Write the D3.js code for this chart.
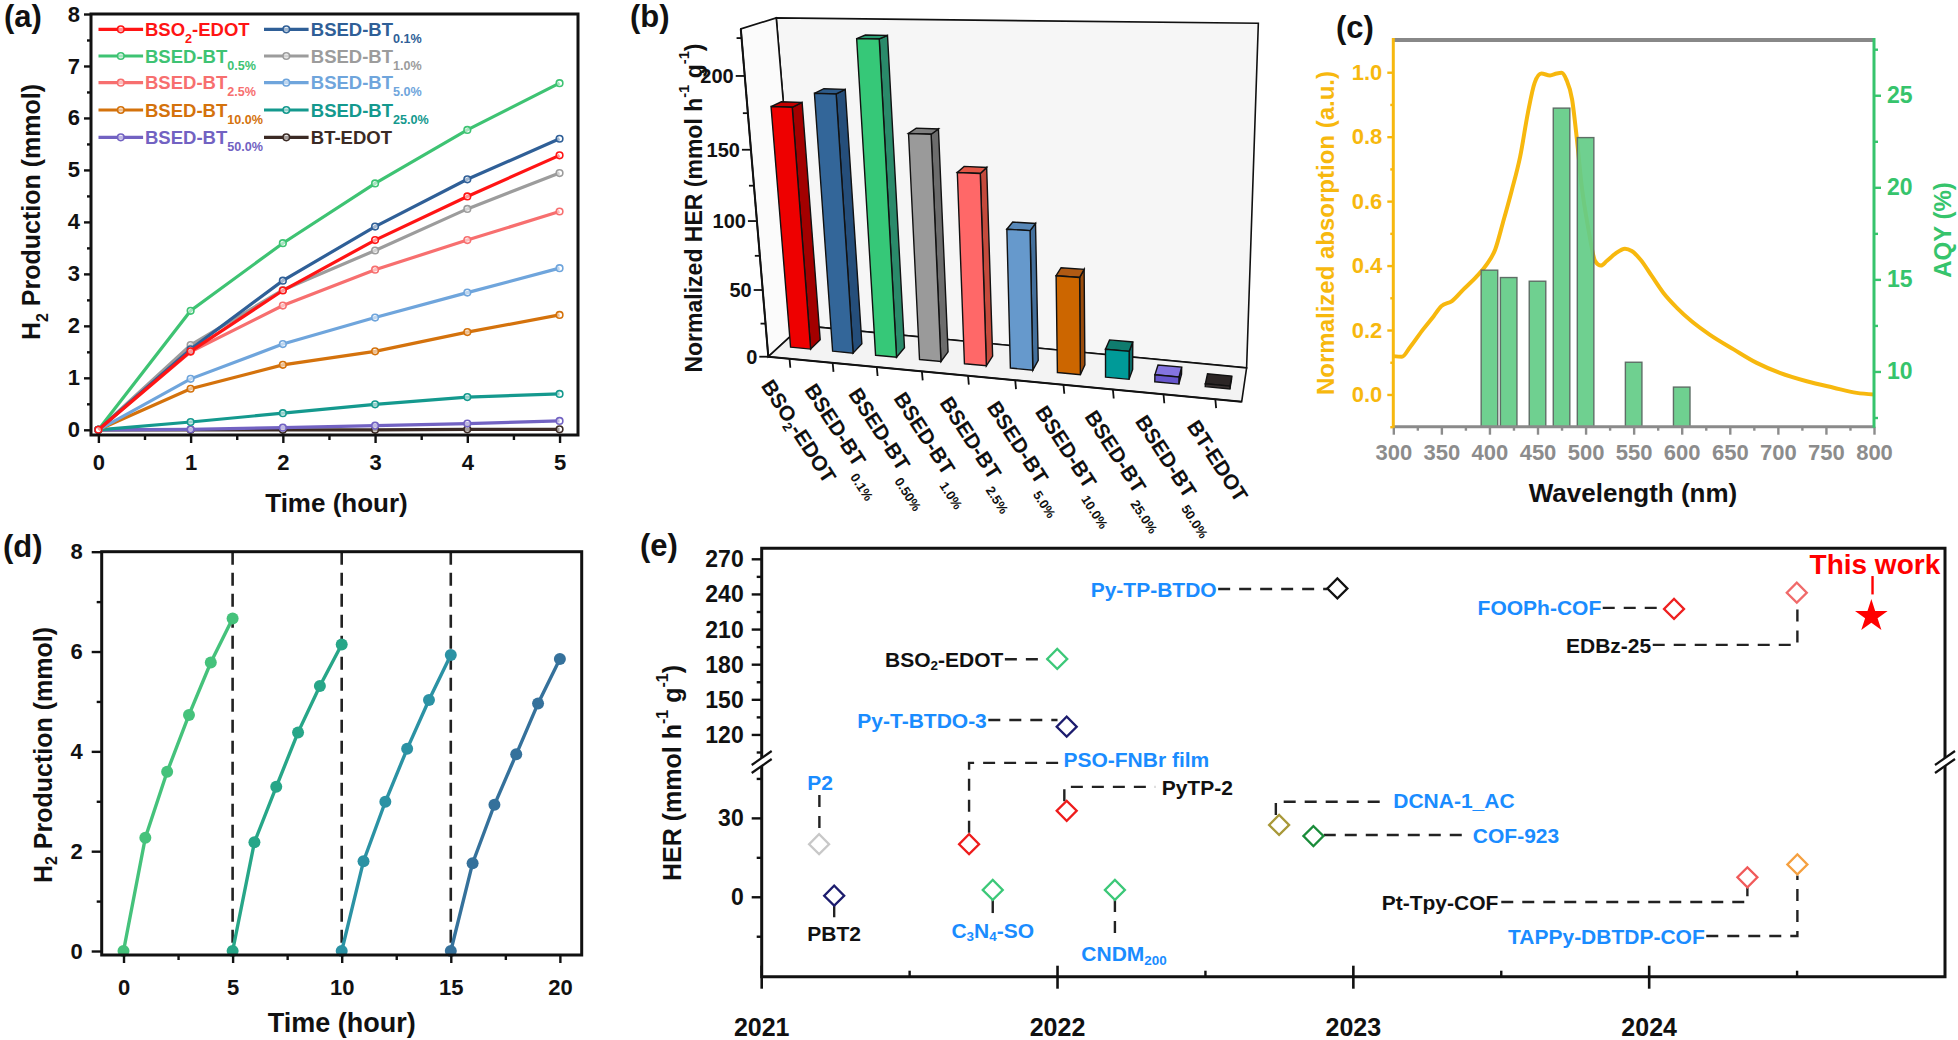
<!DOCTYPE html>
<html><head><meta charset="utf-8">
<script src="https://cdn.jsdelivr.net/npm/d3@7/dist/d3.min.js"></script>
<style>
html,body{margin:0;padding:0;background:#fff;}
svg text{font-family:'Liberation Sans',Arial,Helvetica,sans-serif;font-weight:bold;}
</style></head><body>
<svg id="chart" width="1958" height="1040"></svg>
<script>
// ================= DATA =================
// (a) H2 production vs time
const timeHours=[0,1,2,3,4,5];
const seriesLabelsA=["BSO_{2}-EDOT","BSED-BT_{0.1%}","BSED-BT_{0.5%}","BSED-BT_{1.0%}","BSED-BT_{2.5%}","BSED-BT_{5.0%}","BSED-BT_{10.0%}","BSED-BT_{25.0%}","BSED-BT_{50.0%}","BT-EDOT"];
const h2_BSO2_EDOT=[0,1.51,2.68,3.65,4.49,5.28];
const h2_BT0_1=[0,1.55,2.87,3.91,4.82,5.60];
const h2_BT0_5=[0,2.29,3.59,4.74,5.77,6.67];
const h2_BT1_0=[0,1.63,2.69,3.45,4.25,4.94];
const h2_BT2_5=[0,1.50,2.39,3.08,3.65,4.20];
const h2_BT5_0=[0,0.98,1.65,2.16,2.64,3.11];
const h2_BT10_0=[0,0.79,1.25,1.51,1.88,2.21];
const h2_BT25_0=[0,0.15,0.32,0.49,0.63,0.69];
const h2_BT50_0=[0,0.01,0.04,0.08,0.12,0.17];
const h2_BT_EDOT=[0,0,0,0,0.01,0.01];
const ticksA_x=[0,1,2,3,4,5];
const ticksA_y=[0,1,2,3,4,5,6,7,8];

// (b) normalized HER
const herCategories=["BSO_{2}-EDOT","BSED-BT_{0.1%}","BSED-BT_{0.50%}","BSED-BT_{1.0%}","BSED-BT_{2.5%}","BSED-BT_{5.0%}","BSED-BT_{10.0%}","BSED-BT_{25.0%}","BSED-BT_{50.0%}","BT-EDOT"];
const herNormalized=[176,186,223,161,136,99,69,20,5,2];
const ticksB_y=[0,50,100,150,200];

// (c) absorption + AQY
const absWavelength=[300,309,317,331,342,350,361,373,387,397,406,414,423,432,440,447,454,463,470,475,480,486,491,496,503,510,516,522,531,541,548,557,569,581,595,610,629,654,678,702,730,758,782,800];
const absNormalized=[0.119,0.117,0.145,0.202,0.243,0.274,0.29,0.326,0.367,0.403,0.45,0.533,0.631,0.739,0.874,0.967,0.996,0.99,0.996,0.998,0.977,0.915,0.791,0.646,0.512,0.414,0.40,0.414,0.437,0.452,0.445,0.419,0.367,0.315,0.269,0.228,0.186,0.14,0.098,0.067,0.041,0.021,0.005,0.0];
const aqyWavelength=[400,420,450,475,500,550,600];
const aqyPercent=[15.5,15.1,14.9,24.3,22.7,10.5,9.15];
const ticksC_x=[300,350,400,450,500,550,600,650,700,750,800];
const ticksC_left=[0,0.2,0.4,0.6,0.8,1.0];
const ticksC_right=[10,15,20,25];

// (d) cycling
const cycleTime1=[0,1,2,3,4,5];
const cycleTime2=[5,6,7,8,9,10];
const cycleTime3=[10,11,12,13,14,15];
const cycleTime4=[15,16,17,18,19,20];
const cycleH2_1=[0,2.27,3.59,4.73,5.78,6.66];
const cycleH2_2=[0,2.18,3.29,4.38,5.31,6.14];
const cycleH2_3=[0,1.80,2.99,4.05,5.03,5.93];
const cycleH2_4=[0,1.76,2.93,3.94,4.96,5.85];
const cycleBreaks=[5,10,15];
const ticksD_x=[0,5,10,15,20];
const ticksD_y=[0,2,4,6,8];

// (e) literature comparison
const refNames=["P2","PBT2","PSO-FNBr film","C_{3}N_{4}-SO","BSO_{2}-EDOT","Py-T-BTDO-3","PyTP-2","CNDM_{200}","Py-TP-BTDO","DCNA-1_AC","COF-923","Pt-Tpy-COF","TAPPy-DBTDP-COF","FOOPh-COF","EDBz-25","This work"];
const refYear=[2021.194,2021.245,2021.701,2021.781,2021.999,2022.031,2022.031,2022.194,2022.946,2022.749,2022.865,2024.332,2024.501,2024.084,2024.499,2024.751];
const refHER=[20.2,0.6,20.2,2.8,184.9,127.1,32.9,2.8,245.1,27.5,23.3,7.6,12.5,227.6,241.5,221.4];
const ticksE_upper=[120,150,180,210,240,270];
const ticksE_lower=[0,30];
const ticksE_years=[2021,2022,2023,2024];

// ================= HELPERS =================
const svg=d3.select('#chart');
function rich(sel,str,size,o={}){
  const subScale=o.subScale||0.64, subShift=o.subShift||0.32, subDx=o.subDx||0;
  const shortShift=o.shortShift||subShift;
  const parts=str.split(/(_\{[^}]*\}|\^\{[^}]*\})/).filter(s=>s.length);
  let shift=0;
  parts.forEach(p=>{
    let t=p,kind=0;
    if(p.startsWith('_{')){t=p.slice(2,-1);kind=1;}
    else if(p.startsWith('^{')){t=p.slice(2,-1);kind=-1;}
    const sShift=t.length>1?subShift:shortShift;
    const target=kind===1?size*sShift:(kind===-1?-size*0.42:0);
    const ts=sel.append('tspan').text(t).attr('font-size',kind?size*subScale:size);
    if(target-shift!==0) ts.attr('dy',target-shift);
    if(kind===1&&subDx&&t.length>1) ts.attr('dx',subDx);
    shift=target;
  });
  return sel;
}
function label(x,y,t,size,o={}){
  const s=svg.append('text').attr('x',x).attr('y',y).attr('font-size',size)
    .attr('text-anchor',o.anchor||'start').attr('fill',o.color||'#111');
  if(o.central) s.attr('dominant-baseline','central');
  if(o.rotate!==undefined) s.attr('transform',`rotate(${o.rotate},${x},${y})`);
  rich(s,t,size,o);
  return s;
}
function styleAxis(g,size,color,sw){
  g.attr('font-size',size).attr('font-family',null);
  g.select('.domain').remove();
  g.selectAll('.tick line').attr('stroke',color||'#111').attr('stroke-width',sw||2.4);
  g.selectAll('.tick text').attr('fill',color||'#111');
}
function minor(g){g.selectAll('.tick text').remove();}

// panel letters
label(4,27,'(a)',31);
label(630,27,'(b)',31);
label(1336,38,'(c)',31);
label(3,557,'(d)',31);
label(640,556,'(e)',31);

// ================= PANEL A =================
(function(){
  const g=svg.append('g');
  const x=d3.scaleLinear().domain([-0.08,5.2]).range([91,578]);
  const y=d3.scaleLinear().domain([-0.1,8]).range([435,14]);
  const colors=['#ff1414','#2f5f97','#3ec373','#9c9c9c','#f76f6f','#6fa5dc','#d4720c','#14998e','#7262c2','#3b2a24'];
  const vals=[h2_BSO2_EDOT,h2_BT0_1,h2_BT0_5,h2_BT1_0,h2_BT2_5,h2_BT5_0,h2_BT10_0,h2_BT25_0,h2_BT50_0,h2_BT_EDOT];
  const line=d3.line().x((d,i)=>x(timeHours[i])).y(d=>y(d));
  for(let k=vals.length-1;k>=0;k--){
    g.append('path').attr('d',line(vals[k])).attr('fill','none').attr('stroke',colors[k]).attr('stroke-width',3.2);
    g.selectAll(null).data(vals[k]).join('circle').attr('cx',(d,i)=>x(timeHours[i])).attr('cy',d=>y(d))
      .attr('r',3.3).attr('fill','#fff').attr('fill-opacity',0.55).attr('stroke',colors[k]).attr('stroke-width',1.6);
  }
  styleAxis(g.append('g').attr('transform','translate(0,435)').call(d3.axisBottom(x).tickValues(ticksA_x).tickSize(8).tickPadding(11).tickFormat(d3.format('d'))),22);
  minor(g.append('g').attr('transform','translate(0,435)').call(d3.axisBottom(x).tickValues([0.5,1.5,2.5,3.5,4.5]).tickSize(5)).call(s=>styleAxis(s,22)));
  styleAxis(g.append('g').attr('transform','translate(91,0)').call(d3.axisLeft(y).tickValues(ticksA_y).tickSize(7).tickPadding(4).tickFormat(d3.format('d'))),22);
  minor(g.append('g').attr('transform','translate(91,0)').call(d3.axisLeft(y).tickValues([0.5,1.5,2.5,3.5,4.5,5.5,6.5,7.5]).tickSize(4)).call(s=>styleAxis(s,22)));
  g.append('rect').attr('x',91).attr('y',14).attr('width',487).attr('height',421).attr('fill','none').attr('stroke','#111').attr('stroke-width',3);
  // legend
  const rowsY=[29.3,56,82.7,110,137.3];
  const cols=[{l0:98.5,l1:143.1,tx:145},{l0:264,l1:308.6,tx:310.8}];
  seriesLabelsA.forEach((lab,k)=>{
    const r=Math.floor(k/2),c=cols[k%2],yy=rowsY[r];
    g.append('line').attr('x1',c.l0).attr('x2',c.l1).attr('y1',yy).attr('y2',yy).attr('stroke',colors[k]).attr('stroke-width',3.2);
    g.append('circle').attr('cx',(c.l0+c.l1)/2).attr('cy',yy).attr('r',3.3).attr('fill','#fff').attr('fill-opacity',0.55).attr('stroke',colors[k]).attr('stroke-width',1.6);
    label(c.tx,yy+6.5,lab,18.5,{color:colors[k],subScale:0.68,subShift:0.38});
  });
  label(336.5,512,'Time (hour)',26,{anchor:'middle'});
  label(40,212,'H_{2} Production (mmol)',25,{anchor:'middle',rotate:-90});
})();

// ================= PANEL B =================
(function(){
  const g=svg.append('g');
  const BL=[768.3,356.7],BR=[1241.7,401.7],TR=[1254.2,34.7],TL=[740.8,28.9];
  const VP=[1322,-152],K=0.061,vTop=231;
  const [x0,y0]=BL,[x1,y1]=BR,[x2,y2]=TR,[x3,y3]=TL;
  const dx1=x1-x2,dy1=y1-y2,dx2=x3-x2,dy2=y3-y2,dx3=x0-x1+x2-x3,dy3=y0-y1+y2-y3;
  const den=dx1*dy2-dx2*dy1;
  const hg=(dx3*dy2-dx2*dy3)/den,hh=(dx1*dy3-dx3*dy1)/den;
  const ha=x1-x0+hg*x1,hb=x3-x0+hh*x3,hc=x0,hd=y1-y0+hg*y1,he=y3-y0+hh*y3,hf=y0;
  const sU=d3.scaleLinear().domain([0,10]).range([0,1]);
  const sV=d3.scaleLinear().domain([0,vTop]).range([0,1]);
  function P(u,v,z){const s=sU(u),t=sV(v);const w=hg*s+hh*t+1;const fx=(ha*s+hb*t+hc)/w,fy=(hd*s+he*t+hf)/w;
    return [fx+z*K*(VP[0]-fx),fy+z*K*(VP[1]-fy)];}
  const poly=pts=>'M'+pts.map(p=>p[0].toFixed(2)+','+p[1].toFixed(2)).join('L')+'Z';
  const band=d3.scaleBand().domain(d3.range(herCategories.length)).range([0,10]).paddingInner(0.52).paddingOuter(0.26);
  const bw=band.bandwidth();
  // walls
  g.append('path').attr('d',poly([P(0,0,1),P(10,0,1),P(10,vTop,1),P(0,vTop,1)])).attr('fill','#f6f6f6').attr('stroke','#111').attr('stroke-width',1.6);
  g.append('path').attr('d',poly([P(0,0,0),P(0,0,1),P(0,vTop,1),P(0,vTop,0)])).attr('fill','#fbfbfb').attr('stroke','#111').attr('stroke-width',1.6);
  g.append('path').attr('d',poly([P(0,0,0),P(10,0,0),P(10,0,1),P(0,0,1)])).attr('fill','#f3f3f3').attr('stroke','#111').attr('stroke-width',1.6);
  const front=['#ee0000','#336699','#36c878','#9a9a9a','#ff6868','#6699cc','#cc6600','#009a98','#6656cc','#3a3232'];
  const side=['#a30000','#254e7a','#2a8a6a','#6c6c6c','#c44a3c','#44709c','#9a4c0c','#0c6c68','#453a99','#221c1c'];
  const top=['#c40000','#2d5b8a','#2a9c72','#7e7e7e','#e25646','#5888b8','#b05a14','#0f7c6e','#8474e0','#2b2525'];
  const ZF=0.34,ZB=0.64;
  herNormalized.forEach((v,i)=>{
    const u0=band(i),u1=u0+bw;
    g.append('path').attr('d',poly([P(u1,0,ZF),P(u1,0,ZB),P(u1,v,ZB),P(u1,v,ZF)])).attr('fill',side[i]).attr('stroke','#111').attr('stroke-width',1.4);
    g.append('path').attr('d',poly([P(u0,v,ZF),P(u1,v,ZF),P(u1,v,ZB),P(u0,v,ZB)])).attr('fill',top[i]).attr('stroke','#111').attr('stroke-width',1.4);
    g.append('path').attr('d',poly([P(u0,0,ZF),P(u1,0,ZF),P(u1,v,ZF),P(u0,v,ZF)])).attr('fill',front[i]).attr('stroke','#111').attr('stroke-width',1.4);
  });
  // front-left axis
  g.append('path').attr('d','M'+P(0,0,0)+'L'+P(0,vTop,0)).attr('stroke','#111').attr('stroke-width',2).attr('fill','none');
  g.append('path').attr('d','M'+P(0,0,0)+'L'+P(10,0,0)).attr('stroke','#111').attr('stroke-width',2).attr('fill','none');
  [0,25,50,75,100,125,150,175,200,225].forEach(v=>{
    const p=P(0,v,0),maj=ticksB_y.includes(v);
    g.append('line').attr('x1',p[0]).attr('y1',p[1]).attr('x2',p[0]-(maj?9:5)).attr('y2',p[1]).attr('stroke','#111').attr('stroke-width',1.8);
    if(maj) g.append('text').attr('x',p[0]-11).attr('y',p[1]).attr('dominant-baseline','central').attr('text-anchor','end').attr('font-size',20).attr('fill','#111').text(v);
  });
  herCategories.forEach((c,i)=>{
    const p=P(band(i)+bw/2,0,0);
    g.append('line').attr('x1',p[0]).attr('y1',p[1]).attr('x2',p[0]+0.8).attr('y2',p[1]+9).attr('stroke','#111').attr('stroke-width',1.8);
    label(p[0]-29,p[1]+27,c,21,{rotate:57,subScale:0.62,subShift:0.42,shortShift:0.2,subDx:5,color:'#111'});
  });
  label(693.7,208,'Normalized HER (mmol h^{-1} g^{-1})',23,{anchor:'middle',rotate:-90,central:true});
})();

// ================= PANEL C =================
(function(){
  const g=svg.append('g');
  const L=1393.3,R=1874,T=40,B=426.7;
  const x=d3.scaleLinear().domain([300,800]).range([L,R]);
  const yL=d3.scaleLinear().domain([-0.1,1.1]).range([B,T]);
  const yR=d3.scaleLinear().domain([7,28]).range([B,T]);
  const YEL='#f7b80e',GRN='#36c46c',GRY='#8c8c8c';
  const line=d3.line().x((d,i)=>x(absWavelength[i])).y(d=>yL(d)).curve(d3.curveMonotoneX);
  g.append('path').attr('d',line(absNormalized)).attr('fill','none').attr('stroke',YEL).attr('stroke-width',4);
  g.selectAll(null).data(aqyPercent).join('rect')
    .attr('x',(d,i)=>x(aqyWavelength[i]-8.6)).attr('width',x(317.2)-x(300))
    .attr('y',d=>yR(d)).attr('height',d=>B-yR(d))
    .attr('fill','#64cc88').attr('fill-opacity',0.93).attr('stroke','#5e6e66').attr('stroke-width',1.4);
  // axes
  styleAxis(g.append('g').attr('transform',`translate(0,${B})`).call(d3.axisBottom(x).tickValues(ticksC_x).tickSize(8).tickPadding(10)),22,GRY);
  minor(g.append('g').attr('transform',`translate(0,${B})`).call(d3.axisBottom(x).tickValues([325,375,425,475,525,575,625,675,725,775]).tickSize(4)).call(s=>styleAxis(s,22,GRY)));
  styleAxis(g.append('g').attr('transform',`translate(${L},0)`).call(d3.axisLeft(yL).tickValues(ticksC_left).tickSize(6).tickPadding(5).tickFormat(d3.format('.1f'))),22,YEL);
  minor(g.append('g').attr('transform',`translate(${L},0)`).call(d3.axisLeft(yL).tickValues([-0.1,0.1,0.3,0.5,0.7,0.9]).tickSize(3)).call(s=>styleAxis(s,22,YEL)));
  styleAxis(g.append('g').attr('transform',`translate(${R},0)`).call(d3.axisRight(yR).tickValues(ticksC_right).tickSize(7).tickPadding(6)),23,GRN);
  minor(g.append('g').attr('transform',`translate(${R},0)`).call(d3.axisRight(yR).tickValues([7.5,12.5,17.5,22.5,27.5]).tickSize(4)).call(s=>styleAxis(s,23,GRN)));
  g.append('line').attr('x1',L).attr('x2',R).attr('y1',T).attr('y2',T).attr('stroke','#888').attr('stroke-width',4);
  g.append('line').attr('x1',L).attr('x2',R).attr('y1',B).attr('y2',B).attr('stroke','#8a8a8a').attr('stroke-width',3);
  g.append('line').attr('x1',L).attr('x2',L).attr('y1',T-2).attr('y2',B+1).attr('stroke',YEL).attr('stroke-width',3);
  g.append('line').attr('x1',R).attr('x2',R).attr('y1',T-2).attr('y2',B+1).attr('stroke',GRN).attr('stroke-width',3);
  label(1633,502,'Wavelength (nm)',26,{anchor:'middle'});
  label(1324.6,233,'Normalized absorption (a.u.)',24,{anchor:'middle',rotate:-90,central:true,color:YEL});
  label(1942,230,'AQY (%)',24,{anchor:'middle',rotate:-90,central:true,color:GRN});
})();

// ================= PANEL D =================
(function(){
  const g=svg.append('g');
  const L=101.7,R=581.7,T=551.7,B=955;
  const x=d3.scaleLinear().domain([-1,21]).range([L,R]);
  const y=d3.scaleLinear().domain([-0.08,8]).range([B,T]);
  cycleBreaks.forEach(t=>{
    g.append('line').attr('x1',x(t)).attr('x2',x(t)).attr('y1',T).attr('y2',y(0)).attr('stroke','#222').attr('stroke-width',2.6).attr('stroke-dasharray','13,8');
  });
  const times=[cycleTime1,cycleTime2,cycleTime3,cycleTime4];
  const vals=[cycleH2_1,cycleH2_2,cycleH2_3,cycleH2_4];
  const cols=['#45c27b','#27a688','#2b92a4','#35719b'];
  vals.forEach((v,k)=>{
    const line=d3.line().x((d,i)=>x(times[k][i])).y(d=>y(d));
    g.append('path').attr('d',line(v)).attr('fill','none').attr('stroke',cols[k]).attr('stroke-width',3.4);
    g.selectAll(null).data(v).join('circle').attr('cx',(d,i)=>x(times[k][i])).attr('cy',d=>y(d)).attr('r',6).attr('fill',cols[k]);
  });
  styleAxis(g.append('g').attr('transform',`translate(0,${B})`).call(d3.axisBottom(x).tickValues(ticksD_x).tickSize(8).tickPadding(16)),22);
  minor(g.append('g').attr('transform',`translate(0,${B})`).call(d3.axisBottom(x).tickValues([2.5,7.5,12.5,17.5]).tickSize(5)).call(s=>styleAxis(s,22)));
  styleAxis(g.append('g').attr('transform',`translate(${L},0)`).call(d3.axisLeft(y).tickValues(ticksD_y).tickSize(10).tickPadding(9)),22);
  minor(g.append('g').attr('transform',`translate(${L},0)`).call(d3.axisLeft(y).tickValues([1,3,5,7]).tickSize(5)).call(s=>styleAxis(s,22)));
  g.append('rect').attr('x',L).attr('y',T).attr('width',R-L).attr('height',B-T).attr('fill','none').attr('stroke','#111').attr('stroke-width',3);
  label(341.7,1032,'Time (hour)',27,{anchor:'middle'});
  label(42.5,755,'H_{2} Production (mmol)',25,{anchor:'middle',rotate:-90,central:true});
})();

// ================= PANEL E =================
(function(){
  const g=svg.append('g');
  const L=761.7,R=1945,T=548.3,B=976.7,BRK=760;
  const x=d3.scaleLinear().domain([2021,2025]).range([L,R]);
  const yLow=d3.scaleLinear().domain([-30.2,52.2]).range([B,BRK]);
  const yHigh=d3.scaleLinear().domain([98.6,279.4]).range([BRK,T]);
  const y=v=>v>75?yHigh(v):yLow(v);
  const BLUE='#1a8cff',BLK='#111';
  // frame
  g.append('path').attr('d',`M${L},${T}H${R}V${B}H${L}Z`).attr('fill','none').attr('stroke','#111').attr('stroke-width',3);
  // y ticks
  const lt=(v,len)=>g.append('line').attr('x1',L).attr('x2',L-len).attr('y1',y(v)).attr('y2',y(v)).attr('stroke','#111').attr('stroke-width',2.4);
  ticksE_upper.concat(ticksE_lower).forEach(v=>{
    lt(v,10);
    g.append('text').attr('x',L-18).attr('y',y(v)).attr('dominant-baseline','central').attr('text-anchor','end').attr('font-size',23).attr('fill','#111').text(v);
  });
  [105,135,165,195,225,255,-15,15,45].forEach(v=>lt(v,5));
  // x ticks
  ticksE_years.forEach(t=>{
    g.append('line').attr('x1',x(t)).attr('x2',x(t)).attr('y1',B-11).attr('y2',B+12).attr('stroke','#111').attr('stroke-width',2.6);
    g.append('text').attr('x',x(t)).attr('y',B+50).attr('dominant-baseline','central').attr('text-anchor','middle').attr('font-size',25).attr('fill','#111').text(t);
  });
  [2021.5,2022.5,2023.5,2024.5].forEach(t=>g.append('line').attr('x1',x(t)).attr('x2',x(t)).attr('y1',B-6).attr('y2',B).attr('stroke','#111').attr('stroke-width',2.4));
  // axis breaks
  [L,R].forEach(ax=>{
    g.append('path').attr('d',`M${ax-10},${BRK+5}L${ax+10},${BRK-9}L${ax+10},${BRK-1}L${ax-10},${BRK+13}Z`).attr('fill','#fff');
    g.append('line').attr('x1',ax-10).attr('y1',BRK+5).attr('x2',ax+10).attr('y2',BRK-9).attr('stroke','#111').attr('stroke-width',2.2);
    g.append('line').attr('x1',ax-10).attr('y1',BRK+13).attr('x2',ax+10).attr('y2',BRK-1).attr('stroke','#111').attr('stroke-width',2.2);
  });
  // annotation layout (label anchor in data units, connector path)
  const layout={
    "P2":{at:[2021.197,43.9],anchor:'middle',color:BLUE,path:[[2021.195,38.9],[2021.195,24.8]]},
    "PBT2":{at:[2021.245,-13.7],anchor:'middle',color:BLK,path:[[2021.245,-2.9],[2021.245,-7.6]],solid:true},
    "PSO-FNBr film":{at:[2022.02,52.4],anchor:'start',color:BLUE,path:[[2021.701,24.5],[2021.701,51.1],[2022.009,51.1]]},
    "C_{3}N_{4}-SO":{at:[2021.781,-12.4],anchor:'middle',color:BLUE,path:[[2021.781,-1],[2021.781,-6]],solid:true},
    "BSO_{2}-EDOT":{at:[2021.817,184.7],anchor:'end',color:BLK,path:[[2021.822,184.7],[2021.966,184.7]]},
    "Py-T-BTDO-3":{at:[2021.761,132.8],anchor:'end',color:BLUE,path:[[2021.766,132.8],[2022.0,132.8]]},
    "PyTP-2":{at:[2022.352,42],anchor:'start',color:BLK,path:[[2022.023,36.5],[2022.023,42],[2022.33,42]]},
    "CNDM_{200}":{at:[2022.225,-21.3],anchor:'middle',color:BLUE,path:[[2022.194,-1],[2022.194,-15.4]]},
    "Py-TP-BTDO":{at:[2022.538,244.7],anchor:'end',color:BLUE,path:[[2022.543,244.7],[2022.912,244.7]]},
    "DCNA-1_AC":{at:[2023.135,37],anchor:'start',color:BLUE,path:[[2022.738,31.3],[2022.738,36.3],[2023.113,36.3]]},
    "COF-923":{at:[2023.404,23.7],anchor:'start',color:BLUE,path:[[2022.9,23.7],[2023.384,23.7]]},
    "Pt-Tpy-COF":{at:[2023.49,-1.7],anchor:'end',color:BLK,path:[[2023.5,-1.8],[2024.332,-1.8],[2024.332,3.9]]},
    "TAPPy-DBTDP-COF":{at:[2024.188,-14.7],anchor:'end',color:BLUE,path:[[2024.193,-14.7],[2024.501,-14.7],[2024.501,8.3]]},
    "FOOPh-COF":{at:[2023.838,229.5],anchor:'end',color:BLUE,path:[[2023.843,228.5],[2024.053,228.5]]},
    "EDBz-25":{at:[2024.007,196.9],anchor:'end',color:BLK,path:[[2024.012,196.9],[2024.501,196.9],[2024.501,232]]},
    "This work":{at:[2024.763,265.6],anchor:'middle',color:'#ff0000',size:28,path:[[2024.755,255.7],[2024.755,240]],solid:true,lineColor:'#ff0000'}
  };
  const markColor={"P2":'#c8c8c8',"PBT2":'#1c1c6e',"PSO-FNBr film":'#ee1c1c',"C_{3}N_{4}-SO":'#3cc878',"BSO_{2}-EDOT":'#3cc878',"Py-T-BTDO-3":'#1c1c6e',"PyTP-2":'#ee1c1c',"CNDM_{200}":'#3cc878',"Py-TP-BTDO":'#111',"DCNA-1_AC":'#a89838',"COF-923":'#1a8c3a',"Pt-Tpy-COF":'#f05a5a',"TAPPy-DBTDP-COF":'#f5a040',"FOOPh-COF":'#ee2020',"EDBz-25":'#f06a6a'};
  const pline=d3.line().x(d=>x(d[0])).y(d=>y(d[1]));
  refNames.forEach((n,i)=>{
    const L0=layout[n];
    g.append('path').attr('d',pline(L0.path)).attr('fill','none').attr('stroke',L0.lineColor||'#222').attr('stroke-width',2.4)
      .attr('stroke-dasharray',L0.solid?null:'12,9');
  });
  refNames.forEach((n,i)=>{
    const L0=layout[n];
    if(n==='This work'){
      g.append('path').attr('d',d3.symbol(d3.symbolStar,330)()).attr('transform',`translate(${x(refYear[i])},${y(refHER[i])})`).attr('fill','#ff0000');
    } else {
      g.append('path').attr('d',d3.symbol(d3.symbolSquare,200)()).attr('transform',`translate(${x(refYear[i])},${y(refHER[i])}) rotate(45)`)
        .attr('fill','#fff').attr('stroke',markColor[n]).attr('stroke-width',2.3);
    }
    label(x(L0.at[0]),y(L0.at[1]),n,L0.size||21,{anchor:L0.anchor,color:L0.color,central:true,subScale:0.64,subShift:0.3});
  });
  label(672,773,'HER (mmol h^{-1} g^{-1})',25,{anchor:'middle',rotate:-90,central:true});
})();
</script>
</body></html>
